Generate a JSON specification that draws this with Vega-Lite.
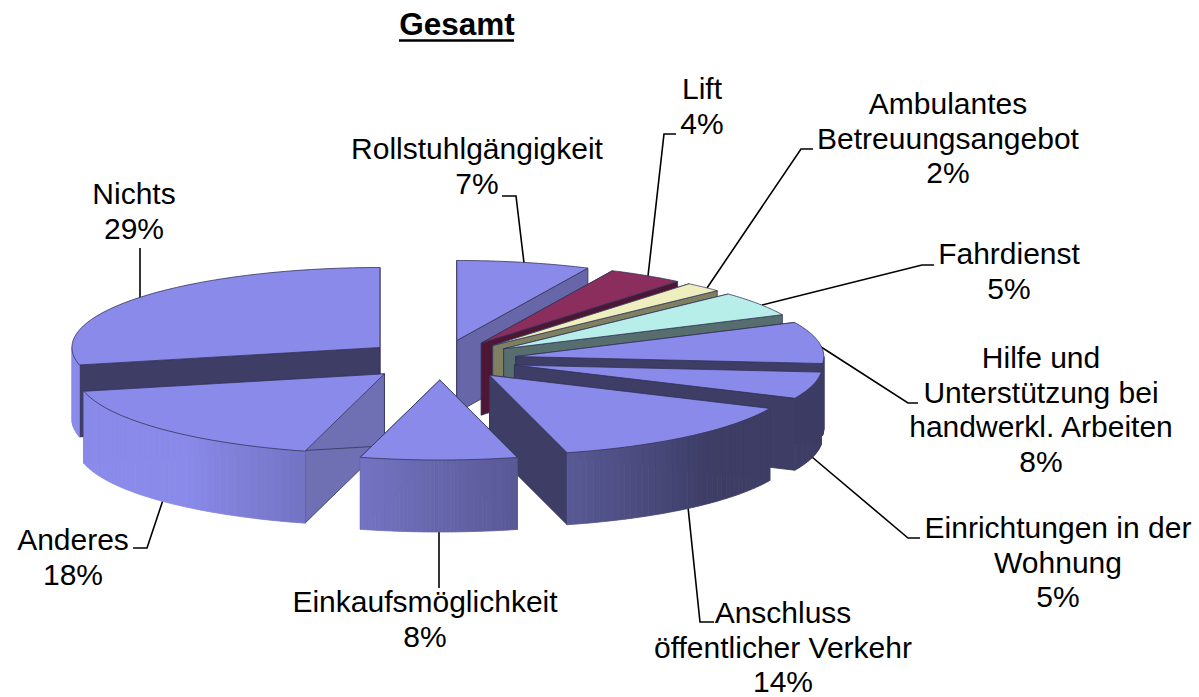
{
"$schema":"https://vega.github.io/schema/vega-lite/v6.json",
"width":1199,"height":697,
"autosize":{"type":"none"},
"padding":0,
"background":"white",
"config":{"view":{"stroke":null}},
"data":{"values":[
{"category":"Nichts","label":"Nichts\n29%","percent":28.5},
{"category":"Rollstuhlgängigkeit","label":"Rollstuhlgängigkeit\n7%","percent":7},
{"category":"Lift","label":"Lift\n4%","percent":4},
{"category":"Ambulantes Betreuungsangebot","label":"Ambulantes\nBetreuungsangebot\n2%","percent":2},
{"category":"Fahrdienst","label":"Fahrdienst\n5%","percent":5},
{"category":"Hilfe und Unterstützung","label":"Hilfe und\nUnterstützung bei\nhandwerkl. Arbeiten\n8%","percent":8.4},
{"category":"Einrichtungen in der Wohnung","label":"Einrichtungen in der\nWohnung\n5%","percent":5.4},
{"category":"Anschluss öffentlicher Verkehr","label":"Anschluss\nöffentlicher Verkehr\n14%","percent":14.15},
{"category":"Anderes","label":"Anderes\n18%","percent":17.35},
{"category":"Einkaufsmöglichkeit","label":"Einkaufsmöglichkeit\n8%","percent":8.2}
]},
"transform":[
{"calculate":"indexof(['Rollstuhlgängigkeit','Lift','Ambulantes Betreuungsangebot','Fahrdienst','Hilfe und Unterstützung','Einrichtungen in der Wohnung','Anschluss öffentlicher Verkehr','Einkaufsmöglichkeit','Anderes','Nichts'],datum.category)","as":"clock"},
{"stack":"percent","groupby":[],"sort":[{"field":"clock","order":"ascending"}],"as":["s","e"]},
{"calculate":"datum.s*2*PI/100","as":"a0"},
{"calculate":"datum.e*2*PI/100","as":"a1"},
{"calculate":"(datum.a0+datum.a1)/2","as":"mid"},
{"calculate":"440+0.25*308*sin(datum.mid)","as":"cx"},
{"calculate":"360-0.25*80*cos(datum.mid)","as":"cy"}
],
"encoding":{
"x":{"field":"px","type":"quantitative","scale":{"domain":[0,1199],"nice":false,"zero":false},"axis":null},
"y":{"field":"py","type":"quantitative","scale":{"domain":[697,0],"nice":false,"zero":false},"axis":null}
},
"layer":[
{"transform":[
{"calculate":"{'Nichts':[140,298,140,298,140,248],'Rollstuhlgängigkeit':[524,263,516,196,502,196],'Lift':[648,276,664,134,676,134],'Ambulantes Betreuungsangebot':[707,288,801,149,813,149],'Fahrdienst':[762,305,922,265,934,265],'Hilfe und Unterstützung':[818,345,908,403,918,403],'Einrichtungen in der Wohnung':[812,457,908,538,920,538],'Anschluss öffentlicher Verkehr':[688,507,700,622,714,622],'Anderes':[163,500,147,548,133,548],'Einkaufsmöglichkeit':[439,532,439,532,439,588]}[datum.category]","as":"leader"},
{"calculate":"[0,1,2]","as":"v"},
{"flatten":["v"]},
{"calculate":"datum.leader[2*datum.v]","as":"px"},
{"calculate":"datum.leader[2*datum.v+1]","as":"py"}],
"mark":{"type":"line","stroke":"black","strokeWidth":1.6},
"encoding":{"detail":{"field":"category"},"order":{"field":"v"}}},
{"transform":[
{"calculate":"[-2,-1,0,1,2,3,4,5,6,7,8,9,10,11,12,13,14,15,16,17,18,19,20,21,22,23,24,25,26,27,28,29,30,31,32,33,34,35,36,37,38,39,40]","as":"part"},
{"flatten":["part"]},
{"filter":"datum.part<0||datum.part>=40||cos(datum.a0+(datum.a1-datum.a0)*datum.part/40)<0||cos(datum.a0+(datum.a1-datum.a0)*(datum.part+1)/40)<0"},
{"calculate":"datum.part>=40?[0,1,2,3,4,5,6,7,8,9,10,11,12,13,14,15,16,17,18,19,20,21,22,23,24,25,26,27,28,29,30,31,32,33,34,35,36,37,38,39,40,41]:[0,1,2,3]","as":"v"},
{"flatten":["v"]},
{"calculate":"datum.part>=40?(datum.v==0?0:1):datum.part<0?[0,1,1,0][datum.v]:1","as":"r"},
{"calculate":"datum.part>=40?max(datum.v-1,0):datum.part==-2?0:datum.part==-1?40:datum.part+[0,1,1,0][datum.v]","as":"t"},
{"calculate":"datum.part>=40?0:[0,0,1,1][datum.v]","as":"z"},
{"calculate":"datum.a0+(datum.a1-datum.a0)*datum.t/40","as":"ang"},
{"calculate":"datum.cx+datum.r*308*sin(datum.ang)","as":"px"},
{"calculate":"datum.cy-datum.r*80*cos(datum.ang)+datum.z*72","as":"py"},
{"calculate":"clamp(((datum.a0+(datum.a1-datum.a0)*(datum.part+0.5)/40)*180/PI-135)/85,0,1)","as":"tt"},
{"calculate":"datum.part>=40?({'Lift':'#8B2E5E','Ambulantes Betreuungsangebot':'#EEEEBE','Fahrdienst':'#B8EEEA'}[datum.category]||'#8A8AEA'):datum.part<0?({'Nichts':'#3D3D66','Rollstuhlgängigkeit':'#6666A8','Lift':'#4D1635','Ambulantes Betreuungsangebot':'#7F7F62','Fahrdienst':'#566E6E','Anderes':'#6F6FB4','Einkaufsmöglichkeit':'#6F6FB4'}[datum.category]||'#3D3D66'):'rgb('+round(61+77*datum.tt)+','+round(61+77*datum.tt)+','+round(102+132*datum.tt)+')'","as":"col"},
{"calculate":"datum.part>=0&&datum.part<40?datum.col:'#33335A'","as":"edge"},
{"calculate":"datum.category+'|'+datum.part","as":"pid"}],
"mark":{"type":"line","interpolate":"linear-closed","strokeWidth":0.8},
"encoding":{"detail":{"field":"pid"},"order":{"field":"v"},"fill":{"field":"col","type":"nominal","scale":null},"stroke":{"field":"edge","type":"nominal","scale":null}}},
{"transform":[
{"calculate":"{'Nichts':[134,195],'Rollstuhlgängigkeit':[477,150],'Lift':[702,90],'Ambulantes Betreuungsangebot':[948,105],'Fahrdienst':[1009,255],'Hilfe und Unterstützung':[1041,359],'Einrichtungen in der Wohnung':[1058,529],'Anschluss öffentlicher Verkehr':[783,614],'Anderes':[73,541],'Einkaufsmöglichkeit':[425,603]}[datum.category]","as":"lp"},
{"calculate":"datum.lp[0]","as":"px"},
{"calculate":"datum.lp[1]","as":"py"}],
"mark":{"type":"text","font":"Liberation Sans","fontSize":30,"lineHeight":34.5,"lineBreak":"\n","align":"center","baseline":"middle","color":"black"},
"encoding":{"text":{"field":"label"}}},
{"data":{"values":[{"title":"Gesamt"}]},
"transform":[{"calculate":"457","as":"px"},{"calculate":"26","as":"py"}],
"mark":{"type":"text","font":"Liberation Sans","fontSize":31.5,"fontWeight":"bold","align":"center","baseline":"middle","color":"black"},
"encoding":{"text":{"field":"title"}}},
{"data":{"values":[{"title":"Gesamt"}]},
"transform":[{"calculate":"[399,514]","as":"px"},{"flatten":["px"]},{"calculate":"40.5","as":"py"}],
"mark":{"type":"line","stroke":"black","strokeWidth":2.5},
"encoding":{"order":{"field":"px"}}}
]
}
